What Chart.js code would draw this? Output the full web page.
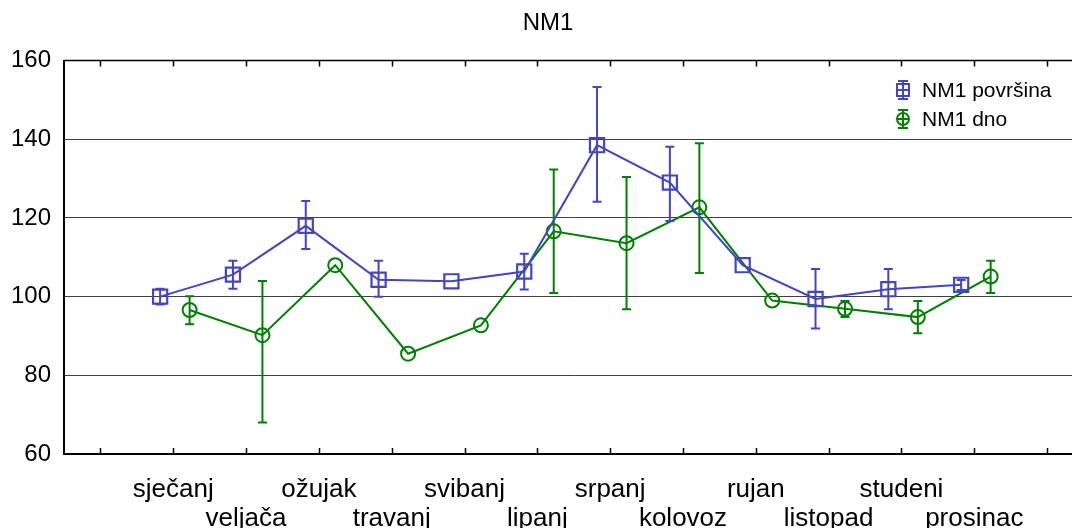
<!DOCTYPE html>
<html><head><meta charset="utf-8">
<script src="https://cdn.jsdelivr.net/npm/chart.js@4.4.0/dist/chart.umd.min.js"></script>
<style>
html,body{margin:0;padding:0;background:#fff;overflow:hidden;}
#wrap{width:1072px;height:528px;overflow:hidden;position:relative;background:#fff;}
canvas{display:block;}
</style></head><body>
<div id="wrap"><canvas id="c" width="1100" height="528"></canvas></div>
<script>
const months = ['sječanj','veljača','ožujak','travanj','svibanj','lipanj','srpanj','kolovoz','rujan','listopad','studeni','prosinac'];
const yTicks = [60,80,100,120,140,160];
const chartTitle = 'NM1';
const seriesNames = ['NM1 površina','NM1 dno'];
const povrsinaMean = [100.0,105.6,118.0,104.3,103.9,106.4,138.5,129.0,108.0,99.4,101.9,103.0];
const povrsinaLow  = [98.0,102.0,112.1,100.0,null,101.8,124.1,119.2,null,91.9,96.8,101.7];
const povrsinaHigh = [102.0,109.1,124.3,109.1,null,110.9,153.3,138.1,null,107.0,107.0,104.2];
const dnoMean = [96.6,90.2,108.0,85.5,92.7,116.6,113.6,122.7,99.0,96.9,94.8,105.1];
const dnoLow  = [93.0,68.0,null,null,null,100.9,96.8,106.0,null,94.8,90.7,100.9];
const dnoHigh = [100.1,104.0,null,null,null,132.3,130.4,139.0,null,98.9,98.9,109.1];

const F = "'Liberation Sans', Arial, Helvetica, sans-serif";
const BLUE = '#4444c4';
const GREEN = '#008000';
const OFF_POV = -0.18, OFF_DNO = 0.225;

const errorBars = {
  id: 'errorBars',
  afterDatasetDraw(chart, args) {
    const ds = chart.data.datasets[args.index];
    const xs = chart.scales.x, ys = chart.scales.y, ctx = chart.ctx;
    ctx.save();
    ctx.strokeStyle = ds.borderColor; ctx.lineWidth = 2;
    ds.errLow.forEach((lo, i) => {
      const hi = ds.errHigh[i];
      if (lo == null || hi == null) return;
      const px = xs.getPixelForValue(ds.data[i].x);
      const y1 = ys.getPixelForValue(lo), y2 = ys.getPixelForValue(hi);
      ctx.beginPath();
      ctx.moveTo(px, y1); ctx.lineTo(px, y2);
      ctx.moveTo(px - 4.5, y1); ctx.lineTo(px + 4.5, y1);
      ctx.moveTo(px - 4.5, y2); ctx.lineTo(px + 4.5, y2);
      ctx.stroke();
    });
    ctx.restore();
  }
};

const frame = {
  id: 'frame',
  beforeDatasetsDraw(chart) {
    const {ctx, chartArea: a} = chart;
    const xs = chart.scales.x;
    ctx.save();
    ctx.strokeStyle = '#000'; ctx.lineWidth = 1.5;
    ctx.beginPath(); ctx.moveTo(a.left, a.top); ctx.lineTo(a.right, a.top); ctx.stroke();
    xs.ticks.forEach(t => {
      const px = Math.round(xs.getPixelForValue(t.value)) + 0.5;
      ctx.beginPath();
      ctx.moveTo(px, a.bottom); ctx.lineTo(px, a.bottom - 6);
      ctx.moveTo(px, a.top); ctx.lineTo(px, a.top + 6);
      ctx.stroke();
    });
    ctx.restore();
  },
  afterDraw(chart) {
    const ctx = chart.ctx;
    ctx.save();
    ctx.fillStyle = '#000';
    ctx.font = '24px ' + F;
    ctx.textAlign = 'center';
    ctx.textBaseline = 'middle';
    ctx.fillText(chartTitle, 548, 23);
    ctx.restore();
  }
};

const legendBox = {
  id: 'legendBox',
  afterDraw(chart) {
    const ctx = chart.ctx;
    const rows = [90, 119];
    const cx = 903;
    chart.data.datasets.forEach((ds, k) => {
      const cy = rows[k];
      ctx.save();
      ctx.strokeStyle = ds.borderColor; ctx.lineWidth = 2;
      ctx.beginPath();
      ctx.moveTo(cx, cy - 9); ctx.lineTo(cx, cy + 9);
      ctx.moveTo(cx - 5, cy - 9); ctx.lineTo(cx + 5, cy - 9);
      ctx.moveTo(cx - 5, cy + 9); ctx.lineTo(cx + 5, cy + 9);
      ctx.moveTo(cx - 6, cy); ctx.lineTo(cx + 6, cy);
      ctx.stroke();
      ctx.beginPath();
      if (k === 0) ctx.rect(cx - 6, cy - 6, 12, 12);
      else ctx.arc(cx, cy, 6, 0, Math.PI * 2);
      ctx.stroke();
      ctx.fillStyle = '#000';
      ctx.font = '21px ' + F;
      ctx.textBaseline = 'middle';
      ctx.textAlign = 'left';
      ctx.fillText(ds.label, 922, cy + 1);
      ctx.restore();
    });
  }
};

new Chart(document.getElementById('c'), {
  type: 'line',
  data: {
    datasets: [
      {
        label: seriesNames[0],
        data: povrsinaMean.map((v, i) => ({x: i + OFF_POV, y: v})),
        errLow: povrsinaLow, errHigh: povrsinaHigh,
        borderColor: BLUE, borderWidth: 2,
        pointStyle: 'rect', pointRadius: 10, pointBorderWidth: 2.2,
        pointBorderColor: BLUE, pointBackgroundColor: 'rgba(0,0,0,0)',
        tension: 0, fill: false
      },
      {
        label: seriesNames[1],
        data: dnoMean.map((v, i) => ({x: i + OFF_DNO, y: v})),
        errLow: dnoLow, errHigh: dnoHigh,
        borderColor: GREEN, borderWidth: 2,
        pointStyle: 'circle', pointRadius: 7, pointBorderWidth: 2,
        pointBorderColor: GREEN, pointBackgroundColor: 'rgba(0,0,0,0)',
        tension: 0, fill: false
      }
    ]
  },
  options: {
    responsive: false,
    animation: false,
    devicePixelRatio: 1,
    layout: {padding: {left: 0, right: 16.5, top: 60.6, bottom: 0}},
    plugins: {
      legend: {display: false},
      tooltip: {enabled: false},
      title: {display: false}
    },
    scales: {
      x: {
        type: 'linear', min: -1.5, max: 12.5,
        afterBuildTicks: s => { const t = []; for (let i = -1; i <= 12; i++) t.push({value: i}); s.ticks = t; },
        afterFit: s => { s.height = 74; },
        ticks: {
          autoSkip: false, maxRotation: 0, minRotation: 0,
          color: '#000', padding: 14,
          font: {size: 26, family: F, lineHeight: 1.1},
          callback: v => {
            const i = Math.round(v);
            if (i < 0 || i > 11) return '';
            return i % 2 === 0 ? [months[i], ''] : ['', months[i]];
          }
        },
        grid: {display: false},
        border: {display: true, color: '#000', width: 2}
      },
      y: {
        min: 60, max: 160,
        afterBuildTicks: s => { s.ticks = yTicks.map(v => ({value: v})); },
        afterFit: s => { s.width = 64; },
        ticks: {color: '#000', padding: 13, font: {size: 24, family: F}},
        grid: {
          drawTicks: false, lineWidth: 1,
          color: c => (c.tick && c.tick.value > 60 && c.tick.value < 160) ? '#404040' : 'rgba(0,0,0,0)'
        },
        border: {display: true, color: '#000', width: 2}
      }
    }
  },
  plugins: [errorBars, frame, legendBox]
});
</script>
</body></html>
